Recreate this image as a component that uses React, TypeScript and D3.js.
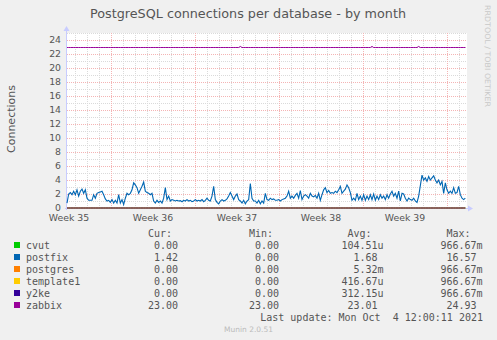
import React from 'react';
import * as d3 from 'd3';

const W = 497;
const H = 340;

const categories = ['cvut', 'postfix', 'postgres', 'template1', 'y2ke', 'zabbix'];
const seriesColors = ['#00cc00', '#0066b3', '#ff8000', '#ffcc00', '#330099', '#990099'];
const curValues = ['0.00', '1.42', '0.00', '0.00', '0.00', '23.00'];
const minValues = ['0.00', '0.00', '0.00', '0.00', '0.00', '23.00'];
const avgValues = ['104.51u', '1.68', '5.32m', '416.67u', '312.15u', '23.01'];
const maxValues = ['966.67m', '16.57', '966.67m', '966.67m', '966.67m', '24.93'];
const yTicks = [0, 2, 4, 6, 8, 10, 12, 14, 16, 18, 20, 22, 24];

const startTime = new Date(Date.UTC(2021, 8, 2, 8, 0, 0));
const endTime = new Date(Date.UTC(2021, 9, 5, 16, 0, 0));
const stepMinutes = 200;

const postfixValues = [
  0.7, 2.0, 2.2, 1.9, 2.4, 1.9, 2.6, 1.7, 2.4, 2.7,
  2.1, 2.6, 1.4, 1.1, 1.1, 1.1, 1.9, 1.4, 2.1, 2.2,
  2.3, 2.4, 1.9, 1.3, 1.0, 1.1, 0.8, 1.2, 0.7, 1.1,
  0.7, 1.9, 0.7, 1.2, 0.5, 1.4, 2.1, 1.9, 2.1, 2.6,
  3.6, 3.3, 2.9, 2.1, 2.6, 3.1, 3.7, 2.4, 2.2, 2.1,
  1.9, 2.1, 1.0, 0.7, 1.1, 0.8, 1.0, 0.7, 1.4, 2.9,
  1.2, 1.7, 1.0, 1.2, 1.1, 1.0, 1.1, 1.0, 1.05, 0.9,
  1.1, 1.0, 1.2, 1.0, 1.1, 0.9, 1.0, 1.2, 1.0, 1.1,
  1.0, 1.2, 0.9, 1.1, 1.4, 1.1, 1.0, 1.7, 3.1, 1.2,
  0.8, 0.6, 1.0, 1.2, 1.0, 1.1, 1.3, 1.7, 2.2, 1.7,
  1.2, 1.7, 2.0, 1.2,
  1.0, 0.7, 1.1, 0.6, 1.0, 1.2, 3.5, 1.4, 1.0, 1.0,
  0.7, 1.1, 0.6, 1.0, 0.7, 2.1, 1.2, 1.1, 1.4, 1.2,
  1.3, 1.1, 1.1, 1.2, 1.0, 1.2, 1.3, 1.4, 1.7, 2.4,
  1.4, 1.7, 1.4, 1.8, 2.1, 1.4, 2.5, 1.2, 1.7, 1.9,
  1.7, 1.4, 2.1, 1.7, 1.6, 1.8, 1.4, 2.1, 1.1, 1.9,
  2.6, 2.9, 2.2, 2.5, 2.1, 2.2, 2.1, 2.4, 2.2, 2.6,
  3.1, 2.1, 2.4, 2.7, 3.3, 2.9, 2.2, 1.1, 1.4, 1.1,
  2.1, 1.2, 1.7, 1.1, 1.9, 1.1, 1.7, 1.2, 1.9, 1.2,
  2.0, 1.1, 1.7, 1.2, 1.9, 1.4, 1.7, 1.2, 1.9, 1.4,
  2.0, 2.4, 1.7, 2.1, 1.4, 2.4, 1.0, 2.1, 2.0, 1.4,
  1.0, 1.4, 1.2, 1.1, 1.4, 1.0, 0.8, 1.7, 3.2, 4.7,
  4.0, 4.3, 3.8, 4.5, 4.0, 4.3, 4.6, 4.0, 3.6, 4.0,
  3.3, 3.8, 2.1, 3.6, 2.6, 2.1, 2.4, 2.1, 2.9, 2.1,
  2.2, 3.1, 1.9, 1.4, 1.2, 1.4,
];
const zabbixBase = 23;
const zabbixSpikes: [number, number][] = [[104, 23.15], [183, 23.15], [211, 23.15]];
const zeroSeriesValue = 0;

const fontSans = '"DejaVu Sans", sans-serif';
const fontMono = '"DejaVu Sans Mono", monospace';

export default function App() {
  const left = 67, right = 467, top = 33, bottom = 208;
  const x = d3.scaleUtc().domain([startTime, endTime]).range([left, right]);
  const y = d3.scaleLinear().domain([0, 25]).range([bottom, top]);

  const times = postfixValues.map((_, i) => new Date(startTime.getTime() + i * stepMinutes * 60000));
  const postfix = postfixValues.map((v, i) => ({ t: times[i], v }));
  const spikeMap = new Map(zabbixSpikes.map(([i, v]) => [i, v]));
  const zabbix = times.map((t, i) => ({ t, v: spikeMap.has(i) ? (spikeMap.get(i) as number) : zabbixBase }));
  const zeros = times.map((t) => ({ t, v: zeroSeriesValue }));

  const line = d3.line<{ t: Date; v: number }>().x((d) => x(d.t)).y((d) => y(d.v));

  const days = d3.utcDay.range(startTime, endTime);
  const weeks = d3.utcMonday.range(startTime, endTime);
  const weekLabelTimes = d3.utcMonday.range(d3.utcMonday.offset(startTime, -1), endTime)
    .map((m) => new Date(m.getTime() + 3.5 * 86400000))
    .filter((t) => x(t) >= left - 5 && x(t) <= right);
  const minorY = d3.range(1, 26, 2);
  const fmtWeek = d3.utcFormat('%V');

  const colX = [178, 279, 377.5, 476.5];
  const rowY = (r: number) => 245 + r * 12;
  const splitUnit = (s: string) => {
    const m = s.match(/^([0-9.]+)([a-zA-Z]?)$/);
    return m ? [m[1], m[2]] : [s, ''];
  };
  const cols = [curValues, minValues, avgValues, maxValues];
  const headers = ['Cur:', 'Min:', 'Avg:', 'Max:'];
  const minorColor = '#dadada';
  const majorColor = '#f4b4b4';

  return (
    <svg width={W} height={H} style={{ display: 'block', position: 'absolute', left: 0, top: 0 }}>
      <rect x={0} y={0} width={W} height={H} fill="#f0f0f0" />
      <text x={248} y={17.5} textAnchor="middle" fontFamily={fontSans} fontSize={12.75} fill="#555">
        PostgreSQL connections per database - by month
      </text>
      <text transform="translate(485,5) rotate(90)" fontFamily={fontSans} fontSize={7.5} fill="#c8c8c8" textLength={102} lengthAdjust="spacingAndGlyphs">
        RRDTOOL / TOBI OETIKER
      </text>
      <text transform="translate(15,119) rotate(-90)" textAnchor="middle" fontFamily={fontSans} fontSize={11} fill="#555">
        Connections
      </text>

      <rect x={left} y={top} width={right - left} height={bottom - top} fill="#ffffff" />

      {/* minor grid */}
      {days.map((d, i) => (
        <line key={'dv' + i} x1={Math.round(x(d)) + 0.5} x2={Math.round(x(d)) + 0.5} y1={top} y2={bottom}
          stroke={minorColor} strokeWidth={1} strokeDasharray="1,1" />
      ))}
      {minorY.map((v) => (
        <line key={'hy' + v} x1={left} x2={right} y1={Math.round(y(v)) + 0.5} y2={Math.round(y(v)) + 0.5}
          stroke={minorColor} strokeWidth={1} strokeDasharray="1,1" />
      ))}
      {/* major grid */}
      {weeks.map((d, i) => (
        <line key={'wv' + i} x1={Math.round(x(d)) + 0.5} x2={Math.round(x(d)) + 0.5} y1={top} y2={bottom}
          stroke={majorColor} strokeWidth={1} strokeDasharray="1,1" />
      ))}
      {yTicks.map((v) => (
        <line key={'my' + v} x1={left} x2={right} y1={Math.round(y(v)) + 0.5} y2={Math.round(y(v)) + 0.5}
          stroke={majorColor} strokeWidth={1} strokeDasharray="1,1" />
      ))}

      {yTicks.map((v) => (
        <text key={'yl' + v} x={61} y={y(v) + 3.4} textAnchor="end" fontFamily={fontSans} fontSize={9.33} fill="#555">
          {v}
        </text>
      ))}
      {weekLabelTimes.map((t, i) => (
        <text key={'wl' + i} x={x(t)} y={221} textAnchor="middle" fontFamily={fontSans} fontSize={9.33} fill="#555">
          {'Week ' + +fmtWeek(t)}
        </text>
      ))}

      {/* axes */}
      <line x1={left - 0.5} x2={left - 0.5} y1={bottom + 2} y2={28} stroke="#c8ccff" strokeWidth={1} />
      <polygon points={`${left - 3.5},31 ${left + 2.5},31 ${left - 0.5},26`} fill="#c8ccff" />
      <line x1={left - 2} x2={right + 1} y1={bottom + 0.5} y2={bottom + 0.5} stroke="#c8ccff" strokeWidth={1} />
      <polygon points={`${right + 1},${bottom - 2.5} ${right + 1},${bottom + 3.5} ${right + 6},${bottom + 0.5}`} fill="#c8ccff" />

      {/* series */}
      {[0, 2, 3, 4].map((k) => (
        <path key={'z' + k} d={line(zeros) || ''} fill="none" stroke={seriesColors[k]} strokeWidth={1} />
      ))}
      <path d={line(postfix) || ''} fill="none" stroke={seriesColors[1]} strokeWidth={1.1} />
      <g transform="translate(0,0.5)">
        <path d={line(zabbix) || ''} fill="none" stroke={seriesColors[5]} strokeWidth={1} />
      </g>

      {/* legend */}
      {headers.map((h, c) => (
        <text key={'h' + c} x={colX[c] - 6} y={236.5} textAnchor="end" fontFamily={fontMono} fontSize={10} fill="#555">
          {h}
        </text>
      ))}
      {categories.map((name, r) => (
        <g key={name}>
          <rect x={14} y={rowY(r) - 3} width={6} height={6} fill={seriesColors[r]} />
          <text x={26} y={rowY(r) + 3.5} fontFamily={fontMono} fontSize={10} fill="#555">{name}</text>
          {cols.map((col, c) => {
            const [num, unit] = splitUnit(col[r]);
            return (
              <g key={c}>
                <text x={colX[c]} y={rowY(r) + 3.5} textAnchor="end" fontFamily={fontMono} fontSize={10} fill="#555">{num}</text>
                {unit && (
                  <text x={colX[c]} y={rowY(r) + 3.5} fontFamily={fontMono} fontSize={10} fill="#555">{unit}</text>
                )}
              </g>
            );
          })}
        </g>
      ))}
      <text x={483} y={320.5} textAnchor="end" fontFamily={fontMono} fontSize={10} fill="#555" style={{ whiteSpace: 'pre' }}>
        {'Last update: Mon Oct  4 12:00:11 2021'}
      </text>
      <text x={248.5} y={331.5} textAnchor="middle" fontFamily={fontSans} fontSize={7.5} fill="#bbbbbb">
        Munin 2.0.51
      </text>
    </svg>
  );
}
